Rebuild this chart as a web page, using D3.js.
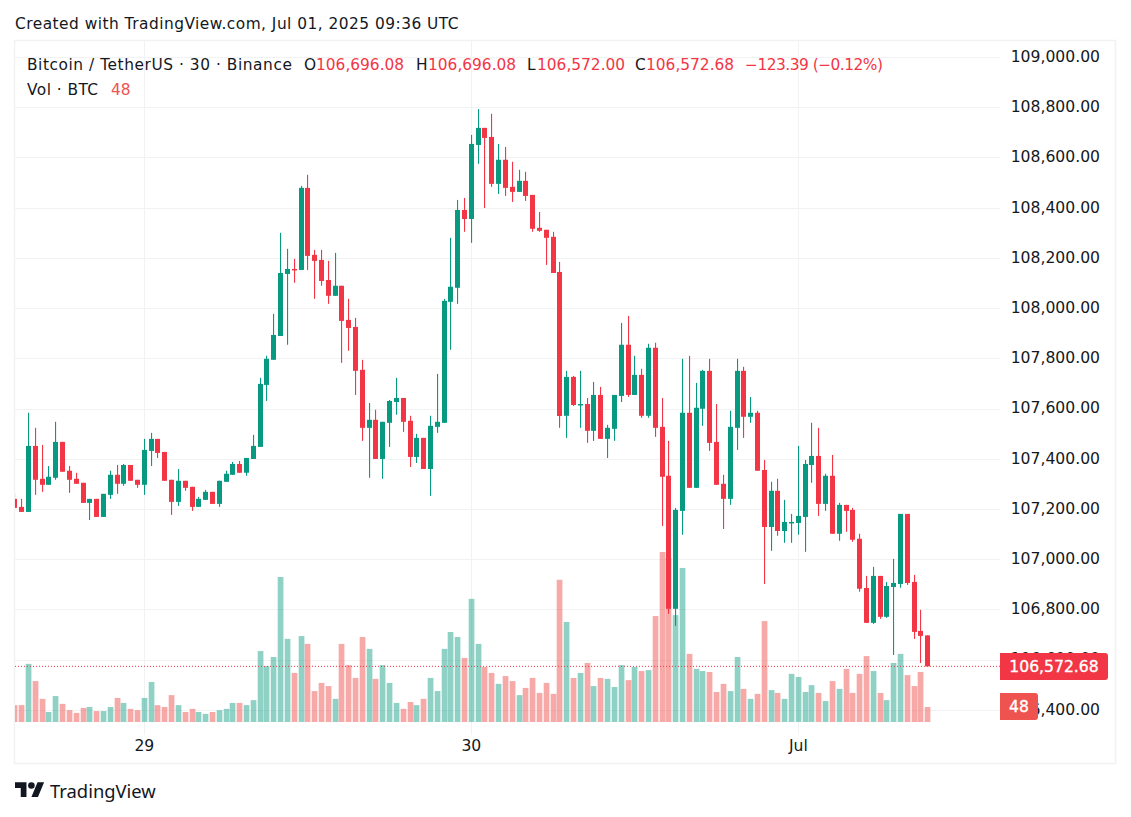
<!DOCTYPE html>
<html><head><meta charset="utf-8">
<script src="https://cdn.jsdelivr.net/npm/d3@7/dist/d3.min.js"></script>
<style>html,body{margin:0;padding:0;background:#fff}svg{display:block}</style>
</head><body><svg id="c" width="1131" height="817"></svg>
<script>
const opens=[107240,107208,107188,107451,107320,107296,107324,107467,107352,107320,
107304,107224,107240,107168,107256,107336,107300,107375,107316,107296,
107431,107479,107427,107316,107228,107312,107288,107208,107236,107268,
107220,107308,107336,107379,107344,107399,107447,107694,107794,107889,
108136,108156,108152,108479,108212,108192,108112,108049,108089,107953,
107925,107754,107523,107555,107399,107543,107626,107642,107551,107407,
107483,107359,107527,107543,108025,108081,108391,108355,108650,108718,
108682,108495,108591,108483,108463,108507,108451,108320,108312,108284,
108144,107571,107726,107614,107618,107511,107654,107479,107519,107650,
107854,107654,107734,107571,107842,107527,107332,106802,107192,107583,
107284,107599,107750,107467,107300,107240,107523,107750,107567,107583,
107355,107128,107272,107112,107144,107144,107168,107375,107411,107220,
107332,107101,107216,107196,107081,106885,106746,106933,106770,106889,
106901,107180,106909,106714,106696.08];
const closes=[107204,107188,107451,107316,107296,107328,107467,107348,107316,107300,
107224,107240,107168,107260,107336,107300,107375,107312,107296,107435,
107479,107423,107312,107228,107312,107284,107208,107240,107268,107220,
107312,107340,107379,107344,107403,107451,107698,107798,107893,108140,
108156,108152,108479,108208,108188,108108,108049,108089,107949,107921,
107750,107523,107555,107399,107547,107630,107642,107547,107407,107483,
107359,107531,107547,108029,108085,108391,108355,108654,108718,108678,
108495,108591,108479,108463,108507,108447,108316,108308,108280,108140,
107570,107726,107614,107618,107511,107654,107479,107523,107654,107854,
107654,107734,107571,107842,107523,107328,106802,107196,107583,107284,
107603,107750,107463,107296,107240,107527,107750,107567,107583,107352,
107128,107272,107112,107148,107148,107172,107379,107411,107220,107332,
107101,107216,107192,107077,106882,106746,106933,106770,106893,106905,
107180,106905,106710,106694,106572.68];
const highs=[107260,107240,107583,107523,107455,107371,107547,107467,107371,107344,
107304,107240,107240,107260,107352,107375,107379,107375,107316,107479,
107503,107479,107427,107316,107359,107312,107288,107248,107276,107268,
107312,107352,107387,107391,107403,107495,107722,107810,107977,108300,
108236,108196,108487,108531,108232,108232,108188,108220,108089,108037,
107961,107794,107622,107595,107547,107634,107722,107642,107571,107499,
107483,107571,107738,108037,108280,108431,108439,108690,108793,108718,
108774,108654,108642,108583,108551,108543,108451,108383,108312,108304,
108184,107750,107730,107750,107642,107706,107686,107535,107654,107941,
107969,107810,107758,107858,107862,107642,107471,107204,107798,107810,
107702,107754,107798,107618,107336,107591,107798,107766,107646,107591,
107395,107308,107320,107236,107180,107451,107395,107543,107523,107340,
107415,107224,107216,107204,107101,106933,106969,106933,106909,107001,
107180,107180,106937,106798,106696.08];
const lows=[107204,107188,107188,107256,107268,107296,107316,107348,107264,107300,
107224,107156,107168,107168,107240,107260,107292,107312,107284,107256,
107371,107403,107312,107176,107212,107272,107192,107208,107236,107220,
107208,107308,107336,107344,107332,107399,107447,107630,107794,107889,
107854,108101,108152,108152,108037,108089,108017,108049,107782,107830,
107654,107471,107324,107399,107320,107447,107575,107507,107367,107383,
107359,107252,107503,107543,107834,108017,108304,108260,108575,108399,
108483,108455,108447,108423,108463,108427,108304,108304,108172,108140,
107523,107483,107610,107523,107463,107471,107479,107403,107471,107626,
107646,107654,107563,107563,107487,107132,106782,106734,107097,107284,
107284,107531,107431,107296,107120,107216,107435,107483,107543,107352,
106901,107033,107093,107065,107065,107097,107029,107304,107172,107192,
107101,107073,107109,107069,106870,106746,106742,106762,106766,106618,
106886,106897,106682,106586,106572];
const volumes=[54,54,186,131,74,32,83,58,38,29,
45,48,35,35,48,77,61,42,38,77,
128,54,48,86,54,32,42,32,26,32,
38,42,61,61,54,70,227,179,208,464,
266,157,275,250,99,125,115,74,250,182,
141,272,234,138,182,125,61,42,64,54,
74,141,99,234,288,272,205,394,250,176,
157,122,147,131,86,109,141,93,125,90,
455,320,141,157,189,115,141,138,112,182,
134,176,163,166,339,544,525,342,493,218,
170,163,160,96,122,99,208,106,74,90,
323,102,93,74,154,144,96,118,93,67,
131,106,170,93,154,211,163,93,70,189,
218,150,115,160,48];
const priceTicks=[109000,108800,108600,108400,108200,108000,107800,107600,107400,107200,107000,106800,106600,106400];
const timeTickIndex=[19,67,115];
const timeTickLabels=["29","30","Jul"];
const lastPrice=106572.68, lastVolume=48;
const headerText="Created with TradingView.com, Jul 01, 2025 09:36 UTC";
const symbolText="Bitcoin / TetherUS · 30 · Binance";
const legendParts=[["O",304,"#131722",0],["106,696.08",316,"#F23645",0],["H",416,"#131722",0],["106,696.08",428,"#F23645",0],["L",527,"#131722",0],["106,572.00",537,"#F23645",0],["C",635,"#131722",0],["106,572.68",646,"#F23645",0],["−123.39 (−0.12%)",745,"#F23645",-.5]];

const GREEN="#089981",RED="#F23645",VRED="rgba(239,83,80,.5)",VGREEN="rgba(8,153,129,.45)",GRID="#f1f2f4";
const FONT="'DejaVu Sans',sans-serif";
const svg=d3.select("#c").style("font-family",FONT);
const x=d3.scaleLinear().domain([0,134]).range([14.4,927.3]);
const y=d3.scaleLinear().domain([106800,108800]).range([609.3,107.3]);
const yv=d3.scaleLinear().domain([0,1000]).range([722,409.5]);
const px=i=>Math.round(x(i));
const idx=d3.range(opens.length);

svg.append("rect").attr("x",14.5).attr("y",40.5).attr("width",1101).attr("height",723).attr("fill","#fff").attr("stroke",GRID).attr("stroke-width",1.5);

const L=15,R=1000,B=735;
svg.append("g").selectAll("line").data(priceTicks).join("line")
 .attr("x1",L).attr("x2",R).attr("y1",d=>Math.round(y(d))+.5).attr("y2",d=>Math.round(y(d))+.5).attr("stroke",GRID);
svg.append("g").selectAll("line").data(timeTickIndex).join("line")
 .attr("x1",d=>px(d)+.5).attr("x2",d=>px(d)+.5).attr("y1",41).attr("y2",B).attr("stroke",GRID);

svg.append("clipPath").attr("id","pane").append("rect").attr("x",L).attr("y",41).attr("width",R-L).attr("height",B-41);
const pane=svg.append("g").attr("clip-path","url(#pane)");

pane.append("g").selectAll("rect").data(idx).join("rect")
 .attr("x",i=>px(i)-2.3).attr("width",5.7)
 .attr("y",i=>yv(volumes[i])).attr("height",i=>yv(0)-yv(volumes[i]))
 .attr("fill",i=>closes[i]>=opens[i]?VGREEN:VRED);

pane.append("line").attr("x1",L).attr("x2",R).attr("y1",y(lastPrice)).attr("y2",y(lastPrice))
 .attr("stroke",RED).attr("stroke-dasharray","1 2");

const cg=pane.append("g");
cg.selectAll("rect.w").data(idx).join("rect").attr("class","w")
 .attr("x",i=>px(i)).attr("width",1.1)
 .attr("y",i=>y(highs[i])).attr("height",i=>y(lows[i])-y(highs[i]))
 .attr("fill",i=>closes[i]>=opens[i]?GREEN:RED);
cg.selectAll("rect.b").data(idx).join("rect").attr("class","b")
 .attr("x",i=>px(i)-2).attr("width",5)
 .attr("y",i=>y(Math.max(opens[i],closes[i])))
 .attr("height",i=>Math.max(1.5,y(Math.min(opens[i],closes[i]))-y(Math.max(opens[i],closes[i]))))
 .attr("fill",i=>closes[i]>=opens[i]?GREEN:RED);

// axes
const yAxis=d3.axisRight(y).tickValues(priceTicks).tickSize(0).tickPadding(0).tickFormat(d3.format(",.2f"));
const ya=svg.append("g").attr("transform","translate(1100,-1.2)").call(yAxis);
ya.select(".domain").remove();
ya.selectAll("text").attr("text-anchor","end").attr("font-size",15.6).attr("font-family",FONT).attr("fill","#131722").attr("dy",".36em");
const xAxis=d3.axisBottom(x).tickValues(timeTickIndex).tickSize(0).tickPadding(0).tickFormat((d,i)=>timeTickLabels[i]);
const xa=svg.append("g").attr("transform","translate(0,740)").call(xAxis);
xa.select(".domain").remove();
xa.selectAll("text").attr("font-size",15.6).attr("font-family",FONT).attr("fill","#131722");

// last value badges
function badge(cy,x0,x1,col,txt){
 const h=27,t=Math.round(cy-h/2),r=3;
 svg.append("path").attr("fill",col).attr("d",`M${x0},${t}H${x1-r}a${r},${r} 0 0 1 ${r},${r}V${t+h-r}a${r},${r} 0 0 1 ${-r},${r}H${x0}Z`);
 svg.append("text").attr("x",(x0+x1)/2).attr("y",t+h/2).attr("dy",".36em").attr("text-anchor","middle")
  .attr("font-size",15.6).attr("fill","#fff").attr("stroke","#fff").attr("stroke-width",.35).text(txt);
}
badge(y(lastPrice),1000,1108,RED,d3.format(",.2f")(lastPrice));
badge(yv(lastVolume),1000,1038,"#ef5350",String(lastVolume));

// texts
svg.append("text").attr("x",15).attr("y",29).attr("font-size",15.4).attr("letter-spacing",.48).attr("fill","#131722").text(headerText);
svg.append("text").attr("x",27).attr("y",70).attr("font-size",15.4).attr("letter-spacing",.55).attr("fill","#131722").text(symbolText);
svg.append("g").selectAll("text").data(legendParts).join("text")
 .attr("x",d=>d[1]).attr("y",70).attr("font-size",15.4).attr("letter-spacing",d=>d[3]).attr("fill",d=>d[2]).text(d=>d[0]);
svg.append("text").attr("x",27).attr("y",95).attr("font-size",15.4).attr("letter-spacing",.45).attr("fill","#131722").text("Vol · BTC");
svg.append("text").attr("x",111).attr("y",95).attr("font-size",15.4).attr("fill","#ef5350").text(lastVolume);

// logo
svg.append("g").attr("transform","translate(15,779) scale(.82)").attr("fill","#131722")
 .call(g=>{g.append("path").attr("d","M14 22H7V11H0V4h14v18zM28 22h-8l7.5-18h8L28 22z");g.append("circle").attr("cx",20).attr("cy",8).attr("r",4);});
svg.append("text").attr("x",50).attr("y",798).attr("font-size",18.4).attr("font-family","'Noto Sans',sans-serif").attr("fill","#131722").text("TradingView");
</script></body></html>
